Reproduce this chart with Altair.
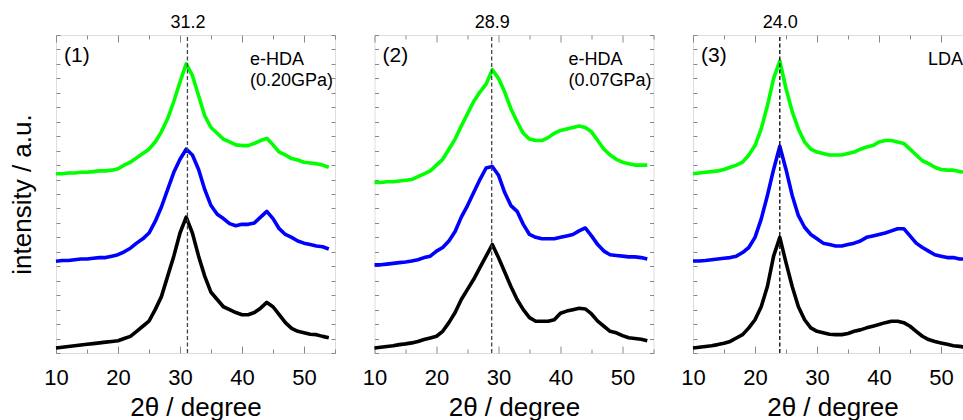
import altair as alt
import pandas as pd

# ---- data ----
X = list(range(10, 55))  # 2theta grid, 10..54 degree

p1_black = [0.35, 0.4, 0.45, 0.5, 0.55, 0.6, 0.65, 0.7, 0.75, 0.8,
            0.85, 1.0, 1.15, 1.5, 1.85, 2.2, 3.0, 3.9, 5.3, 6.7,
            8.3, 9.4, 8.3, 6.7, 5.3, 4.2, 3.7, 3.2, 3.0, 2.8,
            2.65, 2.65, 2.8, 3.1, 3.5, 3.2, 2.65, 2.1, 1.7, 1.5,
            1.4, 1.3, 1.27, 1.15, 1.05]
p1_blue = [6.35, 6.4, 6.4, 6.45, 6.5, 6.5, 6.55, 6.6, 6.6, 6.7,
           6.8, 7.0, 7.25, 7.6, 7.9, 8.3, 9.1, 10.1, 11.3, 12.5,
           13.4, 14.1, 13.7, 12.7, 11.3, 10.2, 9.6, 9.3, 8.95, 8.8,
           8.9, 8.9, 9.0, 9.4, 9.8, 9.3, 8.6, 8.2, 8.0, 7.75,
           7.6, 7.5, 7.4, 7.35, 7.2]
p1_green = [12.4, 12.4, 12.45, 12.45, 12.5, 12.5, 12.55, 12.6, 12.6, 12.65,
            12.75, 13.0, 13.2, 13.5, 13.8, 14.1, 14.6, 15.3, 16.2, 17.4,
            18.75, 20.0, 19.2, 17.8, 16.4, 15.6, 15.2, 14.8, 14.6, 14.4,
            14.35, 14.35, 14.5, 14.7, 14.85, 14.4, 13.9, 13.7, 13.45, 13.35,
            13.2, 13.15, 13.1, 13.0, 12.85]

p2_black = [0.35, 0.4, 0.45, 0.5, 0.58, 0.63, 0.7, 0.8, 0.93, 1.04,
            1.16, 1.5, 2.1, 2.8, 3.7, 4.4, 5.1, 5.9, 6.7, 7.5,
            6.6, 5.6, 4.6, 3.7, 3.0, 2.45, 2.2, 2.2, 2.2, 2.3,
            2.75, 2.9, 3.0, 3.1, 3.05, 2.7, 2.2, 1.85, 1.5, 1.4,
            1.2, 1.05, 1.0, 0.95, 0.85]
p2_blue = [6.1, 6.1, 6.15, 6.2, 6.25, 6.3, 6.37, 6.45, 6.6, 6.7,
           7.05, 7.3, 7.75, 8.4, 9.4, 10.2, 11.1, 12.0, 12.8, 12.9,
           12.3, 11.1, 10.2, 9.8, 8.9, 8.2, 8.0, 7.9, 7.9, 7.9,
           8.0, 8.1, 8.2, 8.45, 8.65, 8.1, 7.5, 7.05, 6.8, 6.75,
           6.7, 6.65, 6.65, 6.6, 6.5]
p2_green = [11.8, 11.8, 11.85, 11.85, 11.9, 11.95, 12.0, 12.2, 12.4, 12.6,
            13.0, 13.4, 14.1, 14.8, 15.7, 16.55, 17.4, 18.05, 18.6, 19.6,
            19.0, 18.05, 16.9, 16.0, 15.2, 14.8, 14.7, 14.7, 14.9, 15.2,
            15.4, 15.5, 15.6, 15.7, 15.6, 15.3, 14.7, 14.1, 13.7, 13.4,
            13.2, 13.1, 13.0, 13.0, 13.0]

p3_black = [0.35, 0.4, 0.45, 0.5, 0.58, 0.68, 0.8, 1.04, 1.27, 1.74,
            2.3, 3.2, 4.6, 6.7, 8.0, 6.25, 4.6, 3.2, 2.3, 1.74,
            1.5, 1.4, 1.3, 1.27, 1.27, 1.35, 1.5, 1.6, 1.74, 1.85,
            1.97, 2.1, 2.2, 2.2, 2.1, 1.85, 1.5, 1.16, 0.93, 0.8,
            0.7, 0.6, 0.5, 0.46, 0.4]
p3_blue = [6.37, 6.37, 6.4, 6.45, 6.5, 6.55, 6.6, 6.7, 6.95, 7.3,
           8.0, 9.26, 10.9, 12.7, 14.3, 12.7, 10.9, 9.5, 8.7, 8.2,
           7.9, 7.6, 7.5, 7.4, 7.4, 7.5, 7.6, 7.75, 8.0, 8.1,
           8.2, 8.3, 8.45, 8.6, 8.6, 8.1, 7.6, 7.3, 7.05, 6.8,
           6.7, 6.6, 6.6, 6.5, 6.5]
p3_green = [12.4, 12.45, 12.5, 12.55, 12.6, 12.7, 12.85, 13.0, 13.2, 13.7,
            14.35, 15.5, 17.1, 19.0, 20.2, 18.3, 16.7, 15.5, 14.6, 14.1,
            13.9, 13.8, 13.7, 13.7, 13.7, 13.8, 13.9, 14.1, 14.25, 14.35,
            14.6, 14.7, 14.7, 14.6, 14.5, 14.1, 13.7, 13.3, 13.1, 12.85,
            12.7, 12.65, 12.65, 12.55, 12.5]

peaks = [31.2, 28.9, 24.0]
panel_tags = ["(1)", "(2)", "(3)"]
sample_lines = [["e-HDA", "(0.20GPa)"], ["e-HDA", "(0.07GPa)"], ["LDA"]]
series_names = ["black", "blue", "green"]
series_colors = ["#000000", "#0000ff", "#00ff00"]

X_TICKS = [10, 15, 20, 25, 30, 35, 40, 45, 50, 55]
Y_TICKS = list(range(0, 23))
X_DOMAIN = [10, 55]
Y_DOMAIN = [0, 22]

FONT = "Liberation Sans"
PW, PH = 279, 318


def panel(i, curves):
    rows = []
    for name, vals in zip(series_names, curves):
        for x, v in zip(X, vals):
            rows.append({"x": x, "y": v, "s": name})
    df = pd.DataFrame(rows)
    xs = alt.Scale(domain=X_DOMAIN, nice=False, zero=False)
    ys = alt.Scale(domain=Y_DOMAIN, nice=False, zero=False)
    minor = "datum.value % 10 !== 0"
    peak = peaks[i]

    x_bottom = alt.Axis(
        orient="bottom", values=X_TICKS, offset=-7, tickSize=7, domain=False,
        grid=False, labelFlush=False, labelOverlap=False,
        labelExpr="datum.value % 10 === 0 && datum.value < 55 ? datum.label : ''",
        labelPadding=14, labelFontSize=22, title="2θ / degree",
        titleFontSize=26, titlePadding=6, titleFontWeight="normal",
        tickDash={"condition": {"test": minor, "value": [0, 3, 4, 30]}, "value": [7, 30]},
    )
    y_left = alt.Axis(
        orient="left", values=Y_TICKS, offset=-4, tickSize=4, domain=False,
        grid=False, labels=False,
        title="intensity / a.u." if i == 0 else None,
        titleFontSize=26, titlePadding=20, titleFontWeight="normal",
    )
    lines = alt.Chart(df).mark_line(strokeWidth=3.6, strokeJoin="round").encode(
        x=alt.X("x:Q", scale=xs, axis=x_bottom),
        y=alt.Y("y:Q", scale=ys, axis=y_left),
        color=alt.Color("s:N", scale=alt.Scale(domain=series_names, range=series_colors), legend=None),
        detail="s:N",
    )

    x_top = alt.Axis(
        orient="top", values=X_TICKS + [peak], offset=-7, tickSize=7, domain=False,
        grid=False, labelFlush=False, labelOverlap=False,
        labelExpr=f"datum.value === {peak} ? format(datum.value, '.1f') : ''",
        labelPadding=4, labelFontSize=18, title=None,
        tickDash={"condition": {"test": minor, "value": [0, 3, 4, 30]}, "value": [7, 30]},
        tickOpacity={"condition": {"test": f"datum.value === {peak}", "value": 0}, "value": 1},
    )
    y_right = alt.Axis(
        orient="right", values=Y_TICKS, offset=-4, tickSize=4, domain=False,
        grid=False, labels=False, title=None,
    )
    rdf = pd.DataFrame({"x": [peak], "y": [Y_DOMAIN[0]], "y2": [Y_DOMAIN[1]]})
    rule = alt.Chart(rdf).mark_rule(
        strokeDash=[4, 2.5], strokeWidth=1.3,
        color="#444444" if i < 2 else "#000000",
    ).encode(
        x=alt.X("x:Q", scale=xs, axis=x_top),
        y=alt.Y("y:Q", scale=ys, axis=y_right),
        y2="y2:Q",
    )

    tag = alt.Chart(pd.DataFrame({"x": [11.3], "y": [20.55], "t": [panel_tags[i]]})).mark_text(
        align="left", baseline="middle", fontSize=21, font=FONT, color="black"
    ).encode(
        x=alt.X("x:Q", scale=xs, axis=None),
        y=alt.Y("y:Q", scale=ys, axis=None),
        text="t:N",
    )
    lab_x = 41.3 if i < 2 else 47.9
    lab_y = [20.3, 18.8][: len(sample_lines[i])]
    lab = alt.Chart(pd.DataFrame({"x": [lab_x] * len(lab_y), "y": lab_y, "t": sample_lines[i]})).mark_text(
        align="left", baseline="middle", fontSize=18, font=FONT, color="black"
    ).encode(
        x=alt.X("x:Q", scale=xs, axis=None),
        y=alt.Y("y:Q", scale=ys, axis=None),
        text="t:N",
    )
    return alt.layer(lines, rule, tag, lab).resolve_axis(
        x="independent", y="independent"
    ).properties(width=PW, height=PH)


panels = [
    panel(0, [p1_black, p1_blue, p1_green]),
    panel(1, [p2_black, p2_blue, p2_green]),
    panel(2, [p3_black, p3_blue, p3_green]),
]

chart = alt.hconcat(*panels, spacing=25.5).properties(
    padding={"left": 9, "top": 12, "right": -10, "bottom": 0}
).configure_view(
    stroke="black", strokeWidth=1
).configure_axis(
    labelFont=FONT, titleFont=FONT, labelColor="black", titleColor="black",
    tickColor="black", tickWidth=1,
).configure(background="white")

chart.save("out.html", embed_options={"renderer": "svg", "actions": False})
